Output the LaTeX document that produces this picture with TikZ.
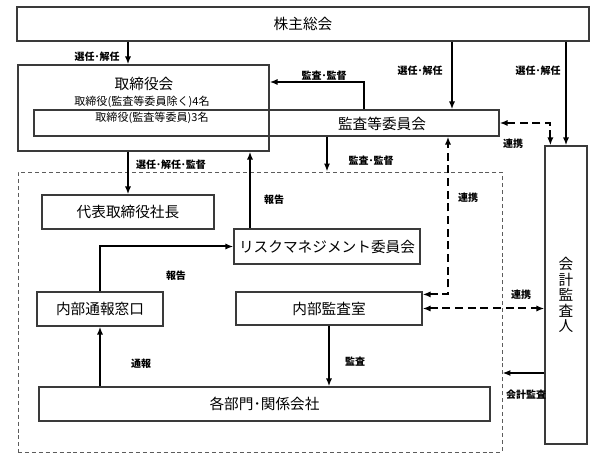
\documentclass[tikz,border=0pt]{standalone}
\usepackage{fontspec}
\setmainfont{Noto Sans CJK JP}
\usetikzlibrary{arrows.meta,calc,positioning}
\definecolor{OrgInk}{HTML}{3A3A3A}
\definecolor{OrgGrey}{HTML}{5C5C5C}

\begin{document}
\begin{tikzpicture}[
      x=0.75pt,y=-0.75pt,
      >={Latex[length=6pt,width=4.6pt]},
      unit/.style={draw=OrgInk,line width=0.9pt,inner sep=0pt,
        font=\fontsize{11}{13}\selectfont},
      flow/.style={->,line width=1.5pt},
      link/.style={<->,line width=1.5pt,dash pattern=on 6pt off 3.5pt},
      tag/.style={font=\fontsize{7.5}{9}\selectfont\bfseries,inner sep=1pt},
      note/.style={font=\fontsize{8.3}{10}\selectfont,inner sep=0pt}
    ]
    \path[use as bounding box] (0,0) rectangle (601,470);
    % boxes
    \node[unit,minimum width=429pt,minimum height=25.5pt] (soukai) at (303,24) {株主総会};
    \node[unit,minimum width=188.25pt,minimum height=64.5pt] (board) at (143.5,108) {};
    \node[unit,minimum width=348.75pt,minimum height=19.5pt] (audit) at (266.5,123) {};
    \node[draw=OrgGrey,line width=0.7pt,dash pattern=on 3pt off 2.2pt,
      minimum width=363pt,minimum height=210pt] (grp) at (260,312) {};
    \node[unit,minimum width=129pt,minimum height=25.5pt] (ceo) at (128,212) {代表取締役社長};
    \node[unit,minimum width=139.5pt,minimum height=26.25pt] (risk) at (327,246.5) {リスクマネジメント委員会};
    \node[unit,minimum width=94.5pt,minimum height=25.5pt] (hotline) at (100,309) {内部通報窓口};
    \node[unit,minimum width=139.5pt,minimum height=24.75pt] (internal) at (329,308.5) {内部監査室};
    \node[unit,minimum width=338.25pt,minimum height=25.5pt] (depts) at (264.5,404) {各部門･関係会社};
    \node[unit,minimum width=31.5pt,minimum height=223.5pt,align=center,
      font=\fontsize{11}{11.6}\selectfont] (auditor) at (566,295) {会\\計\\監\\査\\人};

    % texts inside the board
    \node[font=\fontsize{11}{13}\selectfont] (boardname) at (144,84) {取締役会};
    \node[note] (boardsub) at (142,102) {取締役(監査等委員除く)4名};
    \node[note] (auditsub) at (152,118) {取締役(監査等委員)3名};
    \node[font=\fontsize{11}{13}\selectfont] (auditname) at (382,124) {監査等委員会};

    % turning points
    \coordinate (c1) at (364,82);
    \coordinate (c2) at (452,0);
    \coordinate (c3) at (250,0);
    \coordinate (c4) at (448,0);
    \coordinate (c5) at (0,373);

    % solid connectors
    \draw[flow] (soukai.south -| ceo.north) -- (board.north -| ceo.north);
    \draw[flow] (audit.north -| c1) |- (board.east |- c1);
    \draw[flow] (soukai.south -| c2) -- (audit.north -| c2);
    \draw[flow] (soukai.south -| auditor.north) -- (auditor.north);
    \draw[flow] (board.south -| ceo.north) -- (ceo.north);
    \draw[flow] (risk.north -| c3) -- (board.south -| c3);
    \draw[flow] (audit.south -| risk.north) -- (grp.north -| risk.north);
    \draw[flow] (hotline.north) |- (risk.west);
    \draw[flow] (depts.north -| hotline.south) -- (hotline.south);
    \draw[flow] (internal.south) -- (depts.north -| internal.south);
    \draw[flow] (auditor.west |- c5) -- (grp.east |- c5);

    % dashed connectors
    \draw[link] ($(auditor.north west)+(6,0)$) |- (audit.east);
    \draw[link] ($(internal.north east)+(0,3)$) -| (audit.south -| c4);
    \draw[link] (internal.east) -- (auditor.west |- internal.east);

    % labels
    \node[tag] at (97,57) {選任･解任};
    \node[tag] at (324,76) {監査･監督};
    \node[tag] at (420,71) {選任･解任};
    \node[tag] at (538,71) {選任･解任};
    \node[tag] at (513,144) {連携};
    \node[tag] at (171,165) {選任･解任･監督};
    \node[tag] at (371,161) {監査･監督};
    \node[tag] at (274,200) {報告};
    \node[tag] at (468,198) {連携};
    \node[tag] at (176,276) {報告};
    \node[tag] at (521,295) {連携};
    \node[tag] at (141,364) {通報};
    \node[tag] at (355,362) {監査};
    \node[tag] at (526,395) {会計監査};
  \end{tikzpicture}
\end{document}
